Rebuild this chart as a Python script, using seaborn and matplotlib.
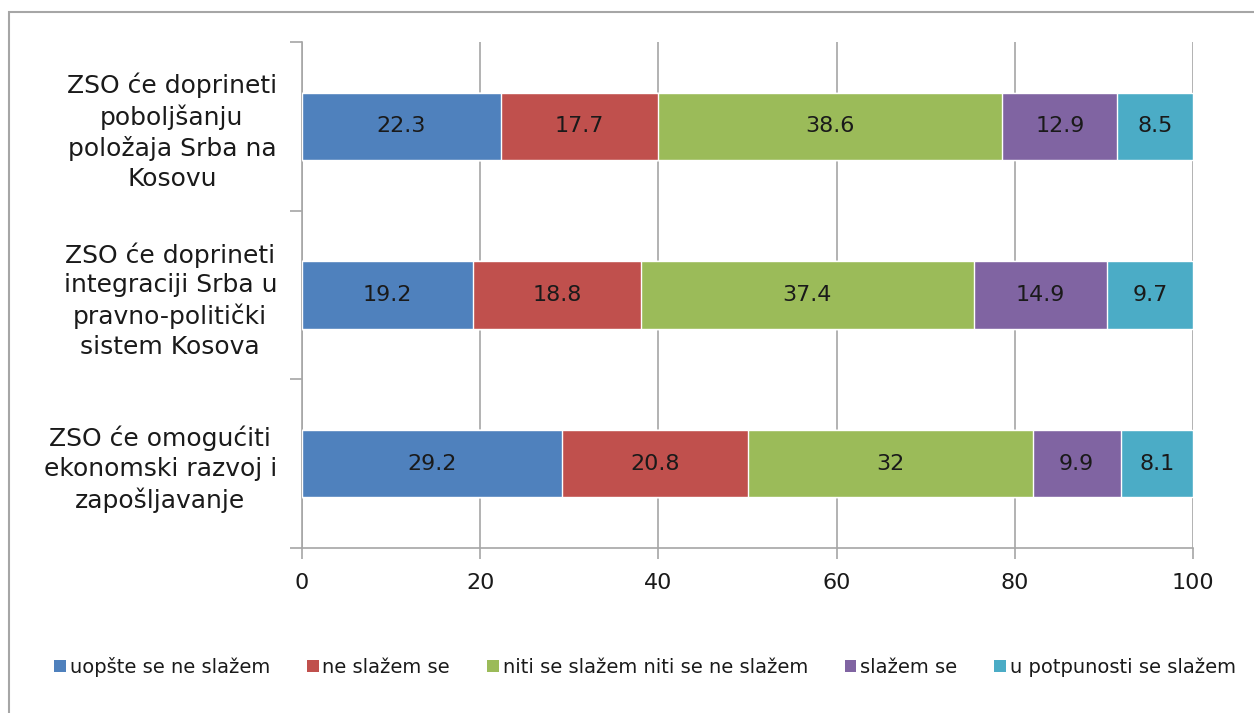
import matplotlib
matplotlib.use("Agg")
import matplotlib.pyplot as plt
from matplotlib.patches import Rectangle, Patch
import numpy as np
import pandas as pd
import seaborn as sns

categories = [
    "ZSO će doprineti\npoboljšanju\npoložaja Srba na\nKosovu",
    "ZSO će doprineti\nintegraciji Srba u\npravno-politički\nsistem Kosova",
    "ZSO će omogućiti\nekonomski razvoj i\nzapošljavanje",
]
series = [
    "uopšte se ne slažem",
    "ne slažem se",
    "niti se slažem niti se ne slažem",
    "slažem se",
    "u potpunosti se slažem",
]
uopste = [22.3, 19.2, 29.2]
ne_slazem = [17.7, 18.8, 20.8]
niti = [38.6, 37.4, 32]
slazem = [12.9, 14.9, 9.9]
potpuno = [8.5, 9.7, 8.1]
value_labels = [["22.3", "19.2", "29.2"], ["17.7", "18.8", "20.8"],
                ["38.6", "37.4", "32"], ["12.9", "14.9", "9.9"],
                ["8.5", "9.7", "8.1"]]
colors = ["#4F81BD", "#C0504D", "#9BBB59", "#8064A2", "#4BACC6"]

sns.set_style("white")
plt.rcParams["font.family"] = ["DejaVu Sans"]

values = np.array([uopste, ne_slazem, niti, slazem, potpuno])
cum = values.cumsum(axis=0)

fig = plt.figure(figsize=(12.54, 7.13), dpi=100)
ax = fig.add_axes([302 / 1254, 1 - 548 / 713, 891 / 1254, 506 / 713])

# stacked bars: draw cumulative totals from the back to the front
for i in range(len(series) - 1, -1, -1):
    df = pd.DataFrame({"cat": categories, "val": cum[i]})
    sns.barplot(data=df, y="cat", x="val", orient="h", color=colors[i],
                width=0.4, saturation=1, ax=ax, zorder=3)

for i in range(len(series)):
    for j in range(len(categories)):
        ax.text(cum[i][j] - values[i][j] / 2, j, value_labels[i][j],
                ha="center", va="center", fontsize=16, color="#1a1a1a", zorder=4)

ax.set_xlim(0, 100)
ax.set_ylim(2.5, -0.5)
ax.set_xticks([0, 20, 40, 60, 80, 100])
ax.set_xticklabels(["0", "20", "40", "60", "80", "100"])
ax.set_xlabel("")
ax.set_ylabel("")
ax.grid(axis="x", color="#A6A6A6", lw=1.2, zorder=0)
ax.set_axisbelow(True)
for s in ["top", "right"]:
    ax.spines[s].set_visible(False)
for s in ["left", "bottom"]:
    ax.spines[s].set_color("#A6A6A6")
    ax.spines[s].set_linewidth(1.2)

ax.tick_params(axis="x", length=8, width=1.2, color="#A6A6A6", labelsize=16,
               pad=10, bottom=True, labelcolor="#1a1a1a")
ax.set_yticks([0, 1, 2])
ax.set_yticklabels(categories, fontsize=18, multialignment="center",
                   linespacing=1.3, color="#1a1a1a")
ax.set_yticks([-0.5, 0.5, 1.5, 2.5], minor=True)
ax.tick_params(axis="y", which="major", length=0, pad=18)
ax.tick_params(axis="y", which="minor", length=9, width=1.2, color="#A6A6A6",
               left=True)

handles = [Patch(facecolor=c, edgecolor="none") for c in colors]
fig.legend(handles, series, loc="center", bbox_to_anchor=(645 / 1254, 1 - 667 / 713),
           ncol=5, frameon=False, fontsize=14, handlelength=0.6, handleheight=0.6,
           handletextpad=0.2, columnspacing=1.9, labelcolor="#1a1a1a")

fig.patches.append(Rectangle((9 / 1254, -0.1), 1.2, 1 - 12 / 713 + 0.1,
                             transform=fig.transFigure, fill=False,
                             edgecolor="#A6A6A6", lw=1.5))

fig.savefig("out.png", dpi=100)
